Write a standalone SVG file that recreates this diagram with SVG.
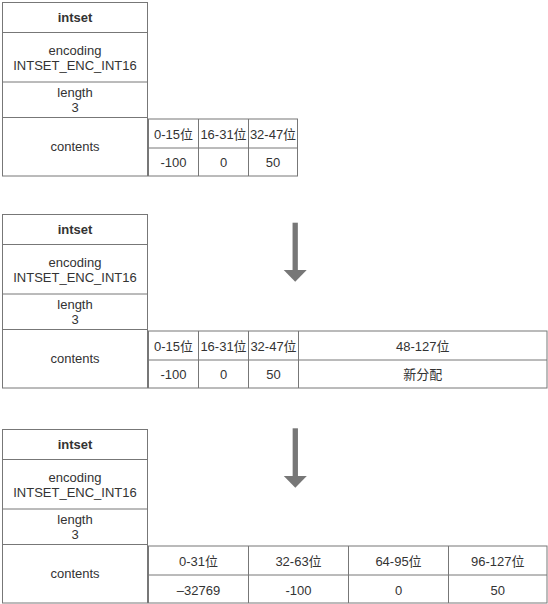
<svg xmlns="http://www.w3.org/2000/svg" width="548" height="604" viewBox="0 0 548 604">
<style>
  .box { fill: #fff; stroke: #777; stroke-width: 1; }
  .ln { stroke: #777; stroke-width: 1; fill: none; }
  text { font-family: "Liberation Sans", Arial, "Noto Sans CJK SC", sans-serif; font-size: 13px; fill: #333; text-anchor: middle; }
  .b { font-weight: bold; }
  .arrow { stroke: #777; stroke-width: 5.3; fill: none; }
</style>
<defs>
  <marker id="head" markerUnits="userSpaceOnUse" markerWidth="24" markerHeight="13" refX="11.5" refY="0" orient="0" overflow="visible">
    <path d="M0,0 L23,0 L11.5,11.7 Z" fill="#777"/>
  </marker>
</defs>
<rect width="548" height="604" fill="#fff"/>

<g id="intset-before">
  <rect class="box" x="2.5" y="2.5" width="145" height="173.5"/>
  <path class="ln" d="M2.5 32.5H147.5M2.5 82H147.5M2.5 117.5H147.5"/>
  <text class="b" x="75" y="22">intset</text>
  <text x="75" y="54.5">encoding</text>
  <text x="75" y="69.5">INTSET_ENC_INT16</text>
  <text x="75" y="97">length</text>
  <text x="75" y="112">3</text>
  <text x="75" y="151">contents</text>
  <rect class="box" x="148.5" y="119" width="149" height="57"/>
  <path class="ln" d="M148.5 148H297.5M198.5 119V176M248.5 119V176"/>
  <text x="173.5" y="139">0-15位</text>
  <text x="223.5" y="139">16-31位</text>
  <text x="273" y="139">32-47位</text>
  <text x="173.5" y="167">-100</text>
  <text x="223.5" y="167">0</text>
  <text x="273" y="167">50</text>
</g>

<g id="intset-realloc">
  <rect class="box" x="2.5" y="214.5" width="145" height="173.5"/>
  <path class="ln" d="M2.5 244.5H147.5M2.5 294H147.5M2.5 329.5H147.5"/>
  <text class="b" x="75" y="234">intset</text>
  <text x="75" y="266.5">encoding</text>
  <text x="75" y="281.5">INTSET_ENC_INT16</text>
  <text x="75" y="309">length</text>
  <text x="75" y="324">3</text>
  <text x="75" y="363">contents</text>
  <rect class="box" x="148.5" y="331" width="398.5" height="57"/>
  <path class="ln" d="M148.5 360H547M198.5 331V388M248.5 331V388M298.5 331V388"/>
  <text x="173.5" y="351">0-15位</text>
  <text x="223.5" y="351">16-31位</text>
  <text x="273.5" y="351">32-47位</text>
  <text x="422.75" y="351">48-127位</text>
  <text x="173.5" y="379">-100</text>
  <text x="223.5" y="379">0</text>
  <text x="273.5" y="379">50</text>
  <text x="422.75" y="379">新分配</text>
</g>

<g id="intset-upgraded">
  <rect class="box" x="2.5" y="429.5" width="145" height="173.5"/>
  <path class="ln" d="M2.5 459.5H147.5M2.5 509H147.5M2.5 544.5H147.5"/>
  <text class="b" x="75" y="449">intset</text>
  <text x="75" y="481.5">encoding</text>
  <text x="75" y="496.5">INTSET_ENC_INT16</text>
  <text x="75" y="524">length</text>
  <text x="75" y="539">3</text>
  <text x="75" y="578">contents</text>
  <rect class="box" x="148.5" y="546" width="398.5" height="57"/>
  <path class="ln" d="M148.5 575H547M248.5 546V603M348.5 546V603M448.5 546V603"/>
  <text x="198.5" y="566">0-31位</text>
  <text x="298.5" y="566">32-63位</text>
  <text x="398.5" y="566">64-95位</text>
  <text x="497.75" y="566">96-127位</text>
  <text x="198.5" y="594.5">–32769</text>
  <text x="298.5" y="594.5">-100</text>
  <text x="398.5" y="594.5">0</text>
  <text x="497.75" y="594.5">50</text>
</g>

<g id="connectors">
  <line class="arrow" x1="295.2" y1="222.7" x2="295.2" y2="270" marker-end="url(#head)"/>
  <line class="arrow" x1="295.3" y1="428.3" x2="295.3" y2="476" marker-end="url(#head)"/>
</g>
</svg>
